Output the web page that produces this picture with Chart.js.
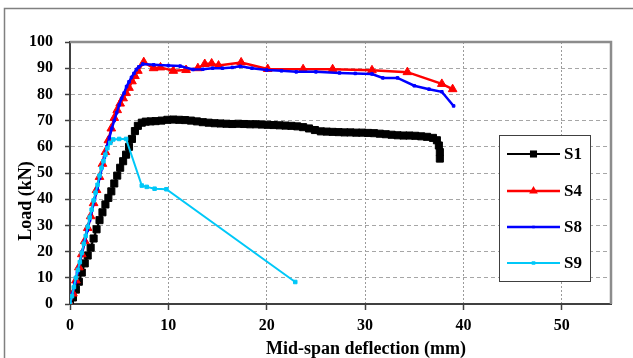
<!DOCTYPE html>
<html>
<head>
<meta charset="utf-8">
<script src="https://cdn.jsdelivr.net/npm/chart.js@4.4.1/dist/chart.umd.min.js"></script>
<style>
  html, body { margin: 0; padding: 0; background: #fff; }
  canvas { display: block; }
</style>
</head>
<body>
<canvas id="loadChart" width="633" height="358"></canvas>
<script>
// series names / titles
const seriesNames = ['S1', 'S4', 'S8', 'S9'];
const xTitle = 'Mid-span deflection (mm)';
const yTitle = 'Load (kN)';
const xTicks = [0, 10, 20, 30, 40, 50];

// S1 - black squares
const s1Defl = [0,0.3,0.6,0.9,1.2,1.5,1.8,2.1,2.4,2.7,3.0,3.3,3.6,3.9,4.2,4.5,4.8,5.1,5.4,5.7,6.0,6.3,6.6,6.9,7.3,7.7,8.2,8.7,9.3,9.9,10.5,11.1,11.7,12.3,12.9,13.5,14.1,14.7,15.3,15.9,16.5,17.1,17.7,18.3,18.9,19.5,20.1,20.7,21.3,21.9,22.5,23.1,23.7,24.3,24.9,25.5,26.1,26.7,27.3,27.9,28.5,29.1,29.7,30.3,30.9,31.5,32.1,32.7,33.3,33.9,34.5,35.1,35.7,36.3,36.9,37.3,37.5,37.6,37.6];
const s1Load = [0,2.5,5.5,8.5,12,15.5,18.5,21.5,25,28.5,32,35,38,40.5,43,46,49,52,54.5,57,60,63,66,68,69.2,69.6,69.7,69.8,70,70.3,70.4,70.3,70.2,70,69.7,69.4,69.2,69,68.9,68.8,68.7,68.8,68.7,68.6,68.6,68.5,68.4,68.3,68.2,68.1,68,67.8,67.5,67,66.4,65.9,65.8,65.7,65.6,65.5,65.5,65.4,65.4,65.3,65.2,65,64.8,64.6,64.4,64.3,64.3,64.2,64,63.8,63.4,62.5,60.5,58,55.5];

// S4 - red triangles
const s4Defl = [0,0.3,0.6,0.9,1.2,1.5,1.8,2.1,2.4,2.7,3.0,3.3,3.6,3.9,4.2,4.5,4.8,5.1,5.4,5.7,6.0,6.3,6.6,6.9,7.5,8.5,9.2,10.5,11.8,13.0,13.7,14.4,15.1,17.4,20.1,23.7,26.7,30.7,34.3,37.8,38.9];
const s4Load = [0,4,9,14,19,24,29,33.5,38.5,43.5,48.5,53.5,58,62.5,67,71,74,76.5,78.5,80.5,82.5,85,87,89,92.3,90,90.3,89,89.3,90,91.6,91.8,91,92.2,89.7,89.6,89.6,89.2,88.5,84,82];

// S8 - blue
const s8Defl = [0,0.25,0.5,0.75,1.0,1.25,1.5,1.75,2.0,2.25,2.5,2.75,3.0,3.25,3.5,3.75,4.0,4.25,4.5,4.75,5.0,5.25,5.5,5.75,6.0,6.25,6.5,6.75,7.0,7.4,8.5,10.0,11.2,12.5,13.5,14.5,15.5,16.5,17.3,18.5,20.0,21.5,23.0,25.0,27.4,29.0,30.7,31.8,33.3,35.0,36.5,37.8,39.0];
const s8Load = [0,4,8,12,16,20,24,28,32,36,40,44,48,52,56,60,63.5,67,70,73,76,78.5,80.5,83,84.8,86.5,88,89.5,90.5,91.6,91.3,91,90.8,89.5,89.6,90,90,90.3,90.7,90,89.3,89,88.6,88.6,88.2,88,87.8,86.3,86.3,83.3,82,81,75.6];

// S9 - cyan
const s9Defl = [0,0.2,0.4,0.6,0.8,1.0,1.2,1.4,1.6,1.8,2.0,2.2,2.4,2.6,2.8,3.0,3.2,3.4,3.6,3.8,4.1,4.4,5.0,5.7,7.3,7.8,8.6,9.8,22.9];
const s9Load = [0,3,6.5,10,13,16,19.5,23,26,29.5,33,36,39.5,42.5,45.5,49,52,54.5,57,59.5,61.5,62.8,63,63,45.2,44.7,44,43.8,8.4];

const pts = (xs, ys) => xs.map((x, i) => ({ x: x, y: ys[i] }));

const FONT = 'Liberation Serif, Times New Roman, serif';

const styles = [
  { color: '#000000', style: 'rect', radius: 5, width: 2 },
  { color: '#ff0000', style: 'triangle', radius: 5, width: 2.5 },
  { color: '#0000ff', style: 'rect', radius: 1.8, width: 2.5 },
  { color: '#00c8f8', style: 'rect', radius: 2.5, width: 2 }
];

function drawMarker(ctx, s, x, y) {
  ctx.fillStyle = s.color;
  ctx.beginPath();
  if (s.style === 'rect') {
    const h = s.radius * Math.SQRT1_2;
    ctx.rect(x - h, y - h, 2 * h, 2 * h);
  } else {
    const r = s.radius;
    ctx.moveTo(x, y - r);
    ctx.lineTo(x + r * 0.866, y + r * 0.5);
    ctx.lineTo(x - r * 0.866, y + r * 0.5);
    ctx.closePath();
  }
  ctx.fill();
}

const framePlugin = {
  id: 'frame',
  beforeDraw(chart) {
    const ctx = chart.ctx;
    ctx.save();
    ctx.fillStyle = '#fff';
    ctx.fillRect(0, 0, chart.width, chart.height);
    ctx.strokeStyle = '#808080';
    ctx.lineWidth = 1.5;
    ctx.strokeRect(4.5, 8.5, chart.width + 10, chart.height + 10);
    ctx.restore();
  },
  beforeDatasetsDraw(chart) {
    const { ctx, chartArea: a } = chart;
    ctx.save();
    ctx.strokeStyle = '#8c8c8c';
    ctx.lineWidth = 2.5;
    ctx.beginPath();
    ctx.moveTo(a.left, a.top);
    ctx.lineTo(a.right, a.top);
    ctx.lineTo(a.right, a.bottom);
    ctx.stroke();
    ctx.restore();
  },
  afterDraw(chart) {
    const ctx = chart.ctx;
    ctx.save();
    // axis titles
    ctx.fillStyle = '#000';
    ctx.font = 'bold 18px ' + FONT;
    ctx.textAlign = 'center';
    ctx.textBaseline = 'alphabetic';
    ctx.fillText(xTitle, 366, 354);
    ctx.save();
    ctx.translate(30.5, 201);
    ctx.rotate(-Math.PI / 2);
    ctx.fillText(yTitle, 0, 0);
    ctx.restore();

    // legend box
    ctx.fillStyle = '#fff';
    ctx.fillRect(499.5, 135.5, 91, 146);
    ctx.strokeStyle = '#404040';
    ctx.lineWidth = 1;
    ctx.strokeRect(499.5, 135.5, 91, 146);
    const rows = [154, 191, 227, 263];
    ctx.font = 'bold 17px ' + FONT;
    ctx.textAlign = 'left';
    ctx.textBaseline = 'middle';
    seriesNames.forEach((name, i) => {
      const s = styles[i];
      const y = rows[i];
      ctx.strokeStyle = s.color;
      ctx.lineWidth = s.width;
      ctx.beginPath();
      ctx.moveTo(507, y);
      ctx.lineTo(560, y);
      ctx.stroke();
      drawMarker(ctx, s, 533.5, y);
      ctx.fillStyle = '#000';
      ctx.fillText(name, 564, y + 1);
    });
    ctx.restore();
  }
};

const seriesData = [pts(s1Defl, s1Load), pts(s4Defl, s4Load), pts(s8Defl, s8Load), pts(s9Defl, s9Load)];
const drawOrder = [3, 2, 1, 0];

new Chart(document.getElementById('loadChart'), {
  type: 'scatter',
  data: {
    datasets: seriesNames.map((name, i) => ({
      label: name,
      data: seriesData[i],
      showLine: true,
      borderColor: styles[i].color,
      backgroundColor: styles[i].color,
      borderWidth: styles[i].width,
      pointStyle: styles[i].style,
      pointRadius: styles[i].radius,
      pointBorderWidth: 1,
      pointBorderColor: styles[i].color,
      pointBackgroundColor: styles[i].color,
      tension: 0,
      order: drawOrder[i]
    }))
  },
  options: {
    responsive: false,
    animation: false,
    events: [],
    layout: { padding: { top: 42, right: 22, bottom: 0, left: 0 } },
    plugins: {
      legend: { display: false },
      tooltip: { enabled: false }
    },
    scales: {
      x: {
        type: 'linear',
        min: 0,
        max: 55,
        afterFit: s => { s.height = 54; },
        afterBuildTicks: s => { s.ticks = xTicks.map(v => ({ value: v })); },
        ticks: {
          stepSize: 10,
          maxRotation: 0,
          padding: 6,
          color: '#000',
          font: { family: FONT, size: 16, weight: 'bold' }
        },
        grid: { color: '#9a9a9a', lineWidth: 1, tickLength: 6, tickColor: '#404040', tickWidth: 1.5 },
        border: { color: '#404040', width: 2, dash: [2, 2] }
      },
      y: {
        min: 0,
        max: 100,
        afterFit: s => { s.width = 70; },
        ticks: {
          stepSize: 10,
          padding: 12,
          color: '#000',
          font: { family: FONT, size: 16, weight: 'bold' }
        },
        grid: { color: '#a6a6a6', lineWidth: 1, tickLength: 5, tickColor: '#404040', tickWidth: 1.5 },
        border: { color: '#404040', width: 2, dash: [4, 3] }
      }
    }
  },
  plugins: [framePlugin]
});
</script>
</body>
</html>
